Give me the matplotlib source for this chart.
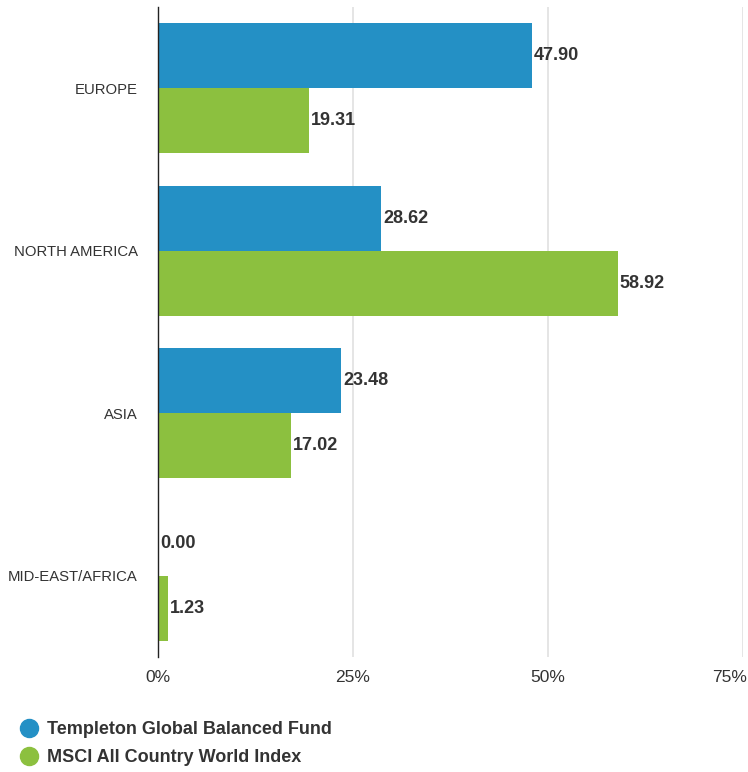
import matplotlib
matplotlib.use("Agg")
import matplotlib.pyplot as plt
from matplotlib import font_manager
from matplotlib.lines import Line2D
import matplotlib.transforms as mtransforms
import numpy as np

categories = ["EUROPE", "NORTH AMERICA", "ASIA", "MID-EAST/AFRICA"]
fund_values = [47.90, 28.62, 23.48, 0.00]
index_values = [19.31, 58.92, 17.02, 1.23]
series_names = ["Templeton Global Balanced Fund", "MSCI All Country World Index"]
xticks = [0, 25, 50, 75]
xtick_labels = ["0%", "25%", "50%", "75%"]

names = {f.name for f in font_manager.fontManager.ttflist}
fam = "Liberation Sans Narrow" if "Liberation Sans Narrow" in names else "Liberation Sans"
plt.rcParams["font.family"] = [fam, "DejaVu Sans"]

blue = "#2490C5"
green = "#8CC03F"
txt = "#333333"

fig = plt.figure(figsize=(7.48, 7.72), dpi=100)
ax = fig.add_axes([158/748, 1 - 657/772, (743-158)/748, (657-7)/772])

y = np.arange(len(categories))
h = 0.4
ax.barh(y - h/2, fund_values, height=h, color=blue, zorder=3)
ax.barh(y + h/2, index_values, height=h, color=green, zorder=3)

for i in range(len(categories)):
    ax.annotate(f"{fund_values[i]:.2f}", (fund_values[i], y[i] - h/2), xytext=(1.5, 0),
                textcoords="offset points", va="center", ha="left",
                fontsize=13, fontweight="bold", color=txt, zorder=4)
    ax.annotate(f"{index_values[i]:.2f}", (index_values[i], y[i] + h/2), xytext=(1.5, 0),
                textcoords="offset points", va="center", ha="left",
                fontsize=13, fontweight="bold", color=txt, zorder=4)

ax.set_xlim(0, 75)
ax.set_ylim(3.5, -0.5)
ax.set_xticks(xticks)
ax.set_xticklabels(xtick_labels, fontsize=12.5, color=txt)
ax.set_yticks(y)
ax.set_yticklabels(categories, fontsize=10.7, color=txt)
ax.tick_params(axis="x", length=0, pad=9.5)
ax.tick_params(axis="y", length=0, pad=14.5)
ax.grid(axis="x", color="#E0E0E0", linewidth=1.2, zorder=0)
for s in ["top", "right", "bottom"]:
    ax.spines[s].set_visible(False)
ax.spines["left"].set_color("#222222")
ax.spines["left"].set_linewidth(1.0)
ax.spines["left"].set_zorder(5)

# keep last x label inside the figure
last = ax.get_xticklabels()[-1]
last.set_horizontalalignment("right")
last.set_transform(last.get_transform() + mtransforms.ScaledTranslation(4/100, 0, fig.dpi_scale_trans))

handles = [Line2D([0], [0], marker="o", linestyle="none", markersize=13,
                  markerfacecolor=c, markeredgecolor=c) for c in (blue, green)]
leg = fig.legend(handles, series_names, loc="upper left",
                 bbox_to_anchor=(11/748, 1 - 714/772), frameon=False,
                 prop={"size": 13, "weight": "bold"}, handletextpad=0.4,
                 labelspacing=0.6, borderaxespad=0, handlelength=1.2)
for t in leg.get_texts():
    t.set_color(txt)

fig.savefig("out.png", dpi=100)
